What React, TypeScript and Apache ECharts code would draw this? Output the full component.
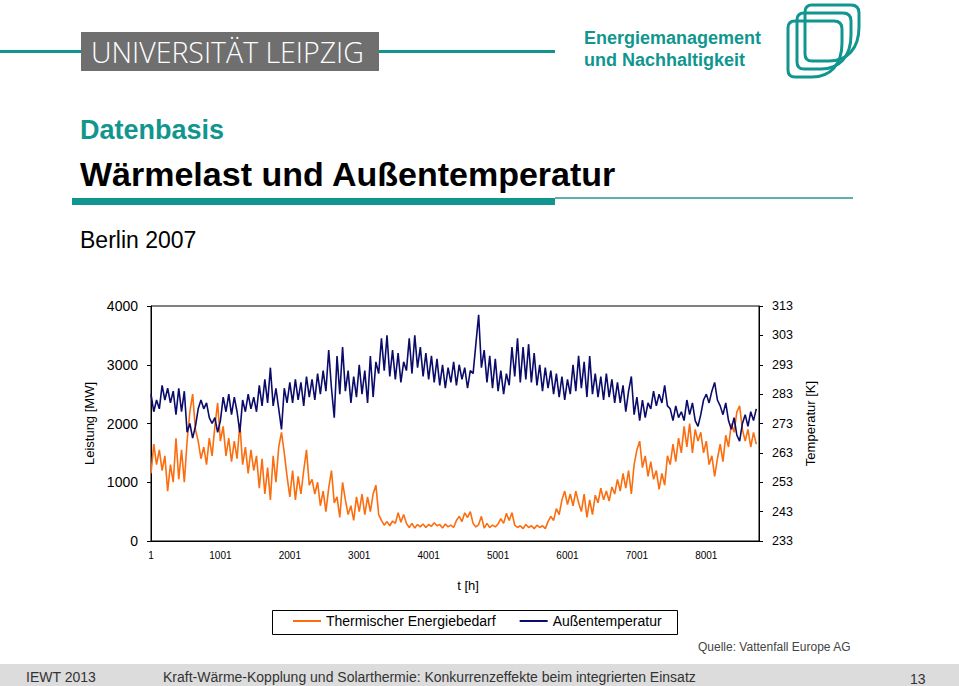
import React, { useEffect, useRef } from "react";
import * as echarts from "echarts";

const HOUR_STEP = 40;
const X_TICK_LABELS_START = 1; // labels are hour + 1 (1, 1001, 2001 ...)
const T_MIN = 233;
const T_MAX = 313;

const demandMW = [
  1150, 1650, 1300, 1550, 1200, 1450, 850, 1300, 1000, 1750,
  1050, 1550, 1000, 1700, 2200, 2500, 1900, 1700, 1400, 1600,
  1300, 1750, 1450, 1950, 2350, 1700, 1950, 1450, 1750, 1350,
  1700, 1400, 2000, 1300, 1600, 1150, 1550, 1200, 1450, 900,
  1400, 800, 1250, 700, 1450, 1000, 1600, 1850, 1500, 1100,
  750, 1200, 700, 1100, 800, 1200, 1550, 950, 1050, 800,
  1000, 600, 850, 500, 900, 1200, 650, 750, 400, 1000,
  700, 450, 600, 350, 750, 500, 800, 450, 750, 500,
  800, 950, 450, 350, 270, 330, 260, 340, 300, 480,
  320, 450, 300, 230, 300, 220, 280, 240, 290, 230,
  280, 250, 310, 260, 280, 220, 290, 240, 270, 230,
  350, 420, 330, 480, 400, 500, 300, 240, 280, 420,
  220, 300, 230, 270, 240, 290, 380, 300, 470, 350,
  480, 270, 230, 260, 210, 280, 230, 260, 210, 270,
  230, 260, 210, 330, 420, 350, 550, 450, 700, 850,
  620, 800, 600, 850, 650, 500, 800, 400, 700, 450,
  780, 650, 900, 700, 850, 680, 920, 800, 1050, 850,
  1150, 900, 1200, 800, 1300, 1550, 1700, 1250, 1450, 1100,
  1350, 1050, 1200, 880, 1150, 950, 1450, 1300, 1650, 1350,
  1750, 1500, 1950, 1600, 2000, 1500, 1900, 1700, 1850, 1500,
  1700, 1300, 1450, 1100, 1400, 1650, 1350, 1800, 1600, 2000,
  1850, 2200, 2300, 1900, 1700, 1900, 1600, 1850, 1650,
];

const tempK = [
  283, 277, 281, 278, 286, 281, 285, 280, 284, 276,
  285, 277, 284, 270, 273, 268, 272, 278, 281, 278,
  280, 275, 273, 275, 270, 274, 282, 277, 283, 276,
  282, 277, 270, 281, 277, 283, 278, 282, 277, 286,
  279, 288, 280, 292, 279, 285, 278, 271, 285, 280,
  287, 280, 288, 281, 287, 279, 289, 282, 288, 281,
  290, 283, 291, 284, 298, 285, 275, 296, 283, 299,
  284, 291, 280, 289, 282, 293, 283, 291, 280, 296,
  282, 294, 290, 302, 291, 303, 289, 298, 288, 297,
  287, 294, 291, 302, 290, 303, 292, 299, 289, 297,
  288, 296, 287, 295, 286, 293, 285, 292, 287, 294,
  286, 293, 288, 292, 285, 291, 290, 300, 310, 292,
  298, 287, 296, 285, 295, 284, 291, 283, 290, 286,
  299, 289, 302, 287, 299, 288, 300, 287, 297, 286,
  293, 284, 292, 285, 291, 283, 290, 282, 289, 281,
  288, 283, 293, 284, 296, 285, 294, 282, 296, 283,
  290, 282, 289, 281, 290, 282, 288, 280, 287, 280,
  286, 277, 284, 289, 276, 282, 274, 281, 275, 280,
  278, 284, 279, 283, 280, 286, 279, 278, 274, 279,
  275, 277, 274, 281, 276, 280, 274, 272, 276, 281,
  283, 280, 284, 287, 281, 279, 276, 280, 274, 271,
  275, 269, 267, 273, 276, 272, 277, 274, 278,
];

const seriesNames = ["Thermischer Energiebedarf", "Außentemperatur"];

const TEAL = "#11968f";
const ORANGE = "#fb6d0e";
const NAVY = "#0b0b6b";
const FONT = "Liberation Sans, Arial, sans-serif";

const LOGO_D =
  "M7 0 L46 0 Q54 0 54 8 L54 22 C54 44 42 56 24 56 L7 56 Q0 56 0 49 L0 7 Q0 0 7 0 Z";
echarts.graphic.registerShape("logoD", echarts.graphic.extendPath(LOGO_D, {}));

function txt(text: string, x: number, y: number, size: number, fill: string, extra: any = {}) {
  return {
    type: "text",
    x,
    y,
    silent: true,
    style: {
      text,
      fill,
      fontSize: size,
      fontFamily: FONT,
      verticalAlign: "middle",
      align: "left",
      ...extra,
    },
  };
}

function buildOption(): any {
  const demandData = demandMW.map((v, i) => [i * HOUR_STEP, v]);
  const tempData = tempK.map((v, i) => [i * HOUR_STEP, v - T_MIN]);

  const graphic: any[] = [
    // header lines and university box
    { type: "rect", shape: { x: 0, y: 50, width: 82, height: 3 }, style: { fill: TEAL } },
    { type: "rect", shape: { x: 378, y: 50, width: 177, height: 3 }, style: { fill: TEAL } },
    { type: "rect", shape: { x: 81, y: 32, width: 298, height: 39 }, style: { fill: "#706f6f" } },
    txt("UNIVERSITÄT LEIPZIG", 91, 52, 28.5, "#ffffff", { fontFamily: "Open Sans, sans-serif", fontWeight: 300 }),
    txt("Energiemanagement", 584, 38, 18, TEAL, { fontWeight: "bold" }),
    txt("und Nachhaltigkeit", 584, 60, 18, TEAL, { fontWeight: "bold" }),
    { type: "logoD", x: 805, y: 5, style: { fill: "none", stroke: TEAL, lineWidth: 3 } },
    { type: "logoD", x: 797, y: 13, style: { fill: "none", stroke: TEAL, lineWidth: 3 } },
    { type: "logoD", x: 788, y: 21, style: { fill: "none", stroke: TEAL, lineWidth: 3 } },
    // titles
    txt("Datenbasis", 80, 130, 27, TEAL, { fontWeight: "bold" }),
    txt("Wärmelast und Außentemperatur", 80, 174, 34, "#000000", { fontWeight: "bold" }),
    { type: "rect", shape: { x: 72, y: 198, width: 483, height: 7 }, style: { fill: TEAL } },
    { type: "rect", shape: { x: 555, y: 197, width: 298, height: 2 }, style: { fill: "#5fb0ac" } },
    txt("Berlin 2007", 80, 240, 23, "#000000"),
    // legend frame
    { type: "rect", shape: { x: 272.5, y: 610.5, width: 405, height: 24 }, style: { fill: "none", stroke: "#000", lineWidth: 1 } },
    txt("Quelle: Vattenfall Europe AG", 698, 647, 12, "#444444"),
    // footer
    { type: "rect", shape: { x: 0, y: 664, width: 959, height: 22 }, style: { fill: "#dcdcdc" } },
    txt("IEWT 2013", 26, 677, 14, "#333333"),
    txt("Kraft-Wärme-Kopplung und Solarthermie: Konkurrenzeffekte beim integrierten Einsatz", 163, 677, 14, "#333333"),
    txt("13", 910, 679, 14, "#333333"),
  ];

  return {
    animation: false,
    backgroundColor: "#ffffff",
    textStyle: { fontFamily: FONT },
    graphic,
    legend: {
      left: 293,
      top: 614,
      itemWidth: 28,
      itemHeight: 2,
      itemGap: 24,
      icon: "rect",
      padding: 0,
      textStyle: { fontSize: 14, color: "#000", fontFamily: FONT },
      data: seriesNames,
    },
    grid: {
      left: 151,
      right: 200,
      top: 306,
      bottom: 145,
      show: true,
      borderColor: "#000",
      borderWidth: 1,
      containLabel: false,
    },
    xAxis: {
      type: "value",
      min: 0,
      max: 8759,
      interval: 1000,
      name: "t [h]",
      nameLocation: "middle",
      nameGap: 38,
      nameTextStyle: { fontSize: 13, color: "#000", padding: [0, 0, 0, 26] },
      axisLine: { show: true, lineStyle: { color: "#000" } },
      axisTick: { show: false },
      splitLine: { show: false },
      axisLabel: {
        fontSize: 10,
        color: "#000",
        margin: 9,
        showMaxLabel: false,
        formatter: (v: number) => String(v + X_TICK_LABELS_START),
      },
    },
    yAxis: [
      {
        type: "value",
        min: 0,
        max: 4000,
        interval: 1000,
        position: "left",
        name: "Leistung [MW]",
        nameLocation: "middle",
        nameGap: 45,
        nameRotate: 90,
        nameTextStyle: { fontSize: 13, color: "#000" },
        axisLine: { show: true, lineStyle: { color: "#000" } },
        axisTick: { show: true, length: 4, lineStyle: { color: "#000" } },
        splitLine: { show: false },
        axisLabel: { fontSize: 14, color: "#000", margin: 13, formatter: (v: number) => String(v) },
      },
      {
        type: "value",
        min: 0,
        max: T_MAX - T_MIN,
        interval: 10,
        position: "right",
        name: "Temperatur [K]",
        nameLocation: "middle",
        nameGap: 39,
        nameRotate: 90,
        nameTextStyle: { fontSize: 13, color: "#000" },
        axisLine: { show: true, lineStyle: { color: "#000" } },
        axisTick: { show: true, length: 4, lineStyle: { color: "#000" } },
        splitLine: { show: false },
        axisLabel: {
          fontSize: 12.5,
          color: "#000",
          margin: 13,
          formatter: (v: number) => String(v + T_MIN),
        },
      },
    ],
    series: [
      {
        name: seriesNames[0],
        type: "line",
        yAxisIndex: 0,
        showSymbol: false,
        data: demandData,
        lineStyle: { color: ORANGE, width: 1.6 },
        itemStyle: { color: ORANGE },
      },
      {
        name: seriesNames[1],
        type: "line",
        yAxisIndex: 1,
        showSymbol: false,
        data: tempData,
        lineStyle: { color: NAVY, width: 1.6 },
        itemStyle: { color: NAVY },
      },
    ],
  };
}

export default function App() {
  const ref = useRef<HTMLDivElement>(null);
  useEffect(() => {
    document.body.style.margin = "0";
    const chart = echarts.init(ref.current!, null, { renderer: "svg", width: 959, height: 686 });
    chart.setOption(buildOption());
    return () => chart.dispose();
  }, []);
  return (
    <div
      ref={ref}
      style={{ position: "absolute", left: 0, top: 0, width: 959, height: 686, background: "#fff" }}
    />
  );
}
